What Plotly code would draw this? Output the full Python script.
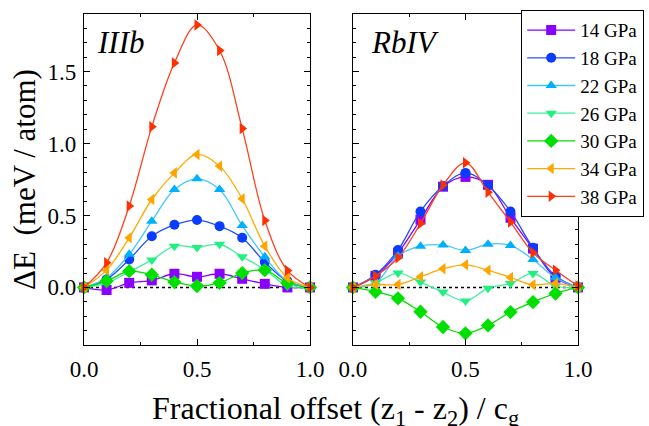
import plotly.graph_objects as go

x_vals = [0.0, 0.1, 0.2, 0.3, 0.4, 0.5, 0.6, 0.7, 0.8, 0.9, 1.0]
pressures = ["14 GPa", "18 GPa", "22 GPa", "26 GPa", "30 GPa", "34 GPa", "38 GPa"]

# Panel IIIb
iiib_14 = [0.0, -0.018, 0.032, 0.049, 0.095, 0.074, 0.095, 0.060, 0.025, 0.0, 0.0]
iiib_18 = [0.0, 0.056, 0.194, 0.356, 0.435, 0.468, 0.426, 0.345, 0.176, 0.044, 0.0]
iiib_22 = [0.0, 0.067, 0.230, 0.460, 0.680, 0.755, 0.680, 0.430, 0.213, 0.044, 0.0]
iiib_26 = [0.0, 0.030, 0.110, 0.190, 0.287, 0.278, 0.300, 0.213, 0.125, 0.010, 0.0]
iiib_30 = [0.0, 0.044, 0.113, 0.088, 0.037, 0.010, 0.032, 0.100, 0.120, 0.030, 0.0]
iiib_34 = [0.0, 0.120, 0.345, 0.611, 0.796, 0.924, 0.843, 0.616, 0.287, 0.067, 0.0]
iiib_38 = [0.0, 0.171, 0.565, 1.116, 1.560, 1.824, 1.646, 1.104, 0.465, 0.118, 0.0]

# Panel RbIV
rbiv_14 = [0.0, 0.080, 0.240, 0.472, 0.700, 0.768, 0.713, 0.484, 0.270, 0.067, 0.0]
rbiv_18 = [0.0, 0.088, 0.260, 0.528, 0.704, 0.796, 0.708, 0.528, 0.275, 0.079, 0.0]
rbiv_22 = [0.0, 0.030, 0.218, 0.287, 0.294, 0.257, 0.300, 0.292, 0.194, 0.067, 0.0]
rbiv_26 = [0.0, 0.032, 0.100, 0.037, -0.032, -0.095, -0.005, 0.028, 0.097, 0.010, 0.0]
rbiv_30 = [0.0, -0.030, -0.076, -0.169, -0.275, -0.319, -0.264, -0.171, -0.102, -0.042, 0.0]
rbiv_34 = [0.0, 0.020, 0.020, 0.074, 0.130, 0.157, 0.120, 0.069, 0.018, 0.028, 0.0]
rbiv_38 = [0.0, 0.079, 0.206, 0.444, 0.711, 0.866, 0.662, 0.454, 0.241, 0.120, 0.01]

iiib = [iiib_14, iiib_18, iiib_22, iiib_26, iiib_30, iiib_34, iiib_38]
rbiv = [rbiv_14, rbiv_18, rbiv_22, rbiv_26, rbiv_30, rbiv_34, rbiv_38]

line_colors = ["#8A00FF", "#2050FF", "#40C8FF", "#40F0A0", "#00E000", "#FFAA00", "#FF4020"]
marker_colors = ["#8A00FF", "#0A3CFF", "#00B0FF", "#20F080", "#00E000", "#FFA500", "#FF3000"]
symbols = ["square", "circle", "triangle-up", "triangle-down", "diamond", "triangle-left", "triangle-right"]

SERIF = "Liberation Serif"

fig = go.Figure()
for i, name in enumerate(pressures):
    for panel, data, xa, ya in [(0, iiib, "x", "y"), (1, rbiv, "x2", "y2")]:
        fig.add_trace(go.Scatter(
            x=x_vals, y=data[i], xaxis=xa, yaxis=ya,
            mode="lines+markers", name=name, legendgroup=name,
            showlegend=(panel == 1),
            line=dict(color=line_colors[i], width=1.3, shape="spline", smoothing=1.0),
            marker=dict(symbol=symbols[i], size=10 if symbols[i] != "diamond" else 11,
                        color=marker_colors[i], line=dict(width=0)),
            cliponaxis=False,
        ))

minor_x = dict(ticks="inside", ticklen=3, dtick=0.25, tick0=0, tickcolor="black", tickwidth=1)
minor_y = dict(ticks="inside", ticklen=3, dtick=0.1, tick0=0, tickcolor="black", tickwidth=1)

axis_common = dict(
    showline=True, linecolor="black", linewidth=1.2, mirror="ticks",
    ticks="inside", ticklen=6, tickwidth=1.2, tickcolor="black",
    showgrid=False, zeroline=False,
    tickfont=dict(family=SERIF, size=23, color="black"),
)

fig.update_layout(
    width=649, height=426,
    margin=dict(l=84, r=71, t=14, b=81, autoexpand=False),
    plot_bgcolor="white", paper_bgcolor="white",
    font=dict(family=SERIF, color="black"),
    xaxis=dict(domain=[0, 0.4575], range=[0, 1], tickvals=[0, 0.5, 1.0],
               ticktext=["0.0", "0.5", "1.0"], ticklabelstandoff=3,
               minor=minor_x, **axis_common),
    xaxis2=dict(domain=[0.5445, 1], range=[0, 1], tickvals=[0, 0.5, 1.0],
                ticktext=["0.0", "0.5", "1.0"], ticklabelstandoff=3,
                minor=minor_x, **axis_common),
    yaxis=dict(range=[-0.4, 1.9], tickvals=[0, 0.5, 1.0, 1.5],
               ticktext=["0.0", "0.5", "1.0", "1.5"], ticklabelstandoff=2,
               minor=minor_y,
               title=dict(text="ΔE  (meV / atom)", font=dict(family=SERIF, size=31, color="black"), standoff=2),
               **axis_common),
    yaxis2=dict(range=[-0.4, 1.9], anchor="x2", tickvals=[0, 0.5, 1.0, 1.5], showticklabels=False,
                minor=minor_y, **axis_common),
    legend=dict(x=0.8846, y=1.012, xanchor="left", yanchor="top",
                bordercolor="black", borderwidth=1.2, bgcolor="white",
                font=dict(family=SERIF, size=19, color="black"),
                itemwidth=48, tracegroupgap=0),
    showlegend=True,
)

for xr, yr in [("x", "y"), ("x2", "y2")]:
    fig.add_shape(type="line", xref=xr, yref=yr, x0=0, x1=1, y0=0, y1=0,
                  line=dict(color="black", width=1.5, dash="dot"), layer="below")

fig.add_annotation(text="<i>IIIb</i>", xref="x", yref="paper", x=0.05, y=0.915,
                   xanchor="left", yanchor="middle", showarrow=False,
                   font=dict(family=SERIF, size=31, color="black"))
fig.add_annotation(text="<i>RbIV</i>", xref="x2", yref="paper", x=0.07, y=0.915,
                   xanchor="left", yanchor="middle", showarrow=False,
                   font=dict(family=SERIF, size=31, color="black"))
fig.add_annotation(text="Fractional offset (z<sub>1</sub> - z<sub>2</sub>) / c<sub>g</sub>",
                   xref="paper", yref="paper", x=0.51, y=-0.13, xanchor="center", yanchor="top",
                   showarrow=False, font=dict(family=SERIF, size=32, color="black"))

fig.write_html("out.html")
